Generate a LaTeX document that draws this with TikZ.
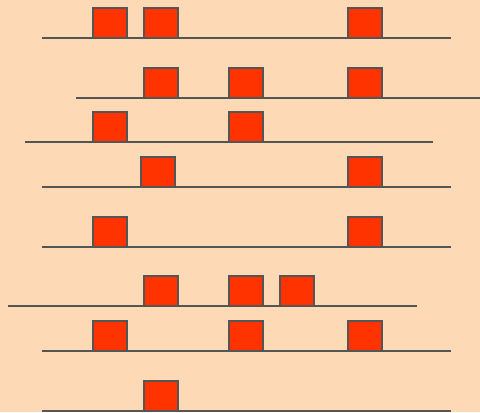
\documentclass[tikz,border=0pt]{standalone}
\usepackage{tikz}
\definecolor{bgpeach}{HTML}{FDD9B5}
\definecolor{sqred}{HTML}{FF3300}
\definecolor{edgegray}{HTML}{555555}
\tikzset{
  sq/.style={draw=edgegray, fill=sqred, line width=1.4pt},
  baseline rule/.style={draw=edgegray, line width=1.4pt},
}
\newcommand{\sqbox}[3]{% name, left x, line y
  \path[sq] (#2,#3) rectangle ++(34,-30);
}
\begin{document}
\begin{tikzpicture}[x=0.75pt,y=-0.75pt]
\fill[bgpeach] (0,0) rectangle (480,412);
\useasboundingbox (0,0) rectangle (480,412);
% row 1
\draw[baseline rule] (42,38) -- (451,38);
\sqbox{a1}{93}{38}\sqbox{a2}{144}{38}\sqbox{a3}{348}{38}
% row 2
\draw[baseline rule] (76,98) -- (480,98);
\sqbox{b1}{144}{98}\sqbox{b2}{229}{98}\sqbox{b3}{348}{98}
% row 3
\draw[baseline rule] (25,142) -- (433,142);
\sqbox{c1}{93}{142}\sqbox{c2}{229}{142}
% row 4
\draw[baseline rule] (42,187) -- (451,187);
\sqbox{d1}{141}{187}\sqbox{d2}{348}{187}
% row 5
\draw[baseline rule] (42,247) -- (451,247);
\sqbox{e1}{93}{247}\sqbox{e2}{348}{247}
% row 6
\draw[baseline rule] (8,306) -- (417,306);
\sqbox{f1}{144}{306}\sqbox{f2}{229}{306}\sqbox{f3}{280}{306}
% row 7
\draw[baseline rule] (42,351) -- (451,351);
\sqbox{g1}{93}{351}\sqbox{g2}{229}{351}\sqbox{g3}{348}{351}
% row 8
\draw[baseline rule] (42,411) -- (451,411);
\sqbox{h1}{144}{411}
\end{tikzpicture}
\end{document}
